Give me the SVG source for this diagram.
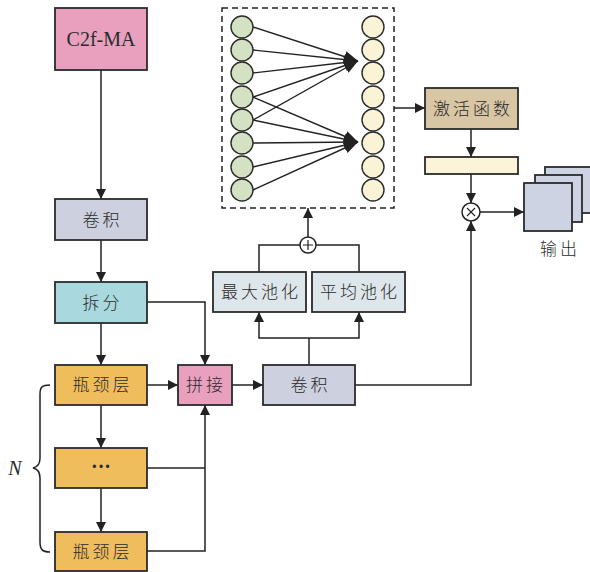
<svg xmlns="http://www.w3.org/2000/svg" width="590" height="572" viewBox="0 0 590 572">
  <style>
    .box { stroke: #2b2b2b; stroke-width: 1.8; }
    .pink { fill: #E9A0BE; }
    .conv { fill: #CDD0DE; }
    .split { fill: #A9D9DE; }
    .neck { fill: #F0BD5C; }
    .pool { fill: #DDE6EA; }
    .act { fill: #D8C6A5; }
    .bar { fill: #FBF4D8; }
    .out { fill: #CDD3E3; }
    .g { fill: #D4E1C2; stroke: #2b2b2b; stroke-width: 1.4; }
    .y { fill: #FAF3D6; stroke: #2b2b2b; stroke-width: 1.4; }
    .ln { fill: none; stroke: #222; stroke-width: 1.5; }
    .arr { fill: none; stroke: #222; stroke-width: 1.5; marker-end: url(#ah); }
    .net { fill: none; stroke: #222; stroke-width: 1.4; marker-end: url(#ah2); }
    .t { font-family: "Noto Sans CJK SC", "Noto Sans", sans-serif; font-size: 17px; font-weight: 300; fill: #2b2b2b; text-anchor: middle; letter-spacing: 3px; }
    .lat { font-family: "Liberation Serif", "Times New Roman", serif; font-size: 20px; fill: #2b2b2b; text-anchor: middle; }
  </style>
  <defs>
    <marker id="ah" viewBox="0 0 10 10" refX="10" refY="5" markerWidth="10" markerHeight="10" markerUnits="userSpaceOnUse" orient="auto">
      <path d="M0,0 L10,5 L0,10 Z" fill="#222"/>
    </marker>
    <marker id="ah2" viewBox="0 0 10 10" refX="10" refY="5" markerWidth="14" markerHeight="14" markerUnits="userSpaceOnUse" orient="auto">
      <path d="M0,1 L10,5 L0,9 Z" fill="#222"/>
    </marker>
  </defs>

  <!-- connectors -->
  <g id="connectors">
    <line class="arr" x1="101" y1="70" x2="101" y2="199"/>
    <line class="arr" x1="101" y1="240" x2="101" y2="282"/>
    <line class="arr" x1="101" y1="323" x2="101" y2="365"/>
    <polyline class="arr" points="147,302 205,302 205,365"/>
    <line class="arr" x1="147" y1="385" x2="178" y2="385"/>
    <line class="arr" x1="101" y1="405" x2="101" y2="448"/>
    <line class="arr" x1="101" y1="488" x2="101" y2="532"/>
    <line class="ln" x1="147" y1="468" x2="205" y2="468"/>
    <polyline class="arr" points="147,551 205,551 205,405"/>
    <line class="arr" x1="232" y1="385" x2="263" y2="385"/>
    <polyline class="arr" points="355,385 471,385 471,221"/>
    <line class="ln" x1="309" y1="365" x2="309" y2="338"/>
    <polyline class="arr" points="309,338 259,338 259,312"/>
    <polyline class="arr" points="309,338 359,338 359,312"/>
    <polyline class="ln" points="259,272 259,245 300,245"/>
    <polyline class="ln" points="359,272 359,245 316,245"/>
    <line class="arr" x1="308" y1="237" x2="308" y2="208"/>
    <line class="arr" x1="394" y1="108" x2="425" y2="108"/>
    <line class="arr" x1="471" y1="129" x2="471" y2="157"/>
    <line class="arr" x1="471" y1="174" x2="471" y2="203"/>
    <line class="arr" x1="480" y1="212" x2="524" y2="212"/>
    <!-- fully connected links -->
    <line class="net" x1="253" y1="27" x2="358" y2="61"/>
    <line class="net" x1="253" y1="50" x2="358" y2="61"/>
    <line class="net" x1="253" y1="73" x2="358" y2="61"/>
    <line class="net" x1="253" y1="97" x2="358" y2="61"/>
    <line class="net" x1="253" y1="120" x2="358" y2="61"/>
    <line class="net" x1="253" y1="97" x2="358" y2="142"/>
    <line class="net" x1="253" y1="120" x2="358" y2="142"/>
    <line class="net" x1="253" y1="143" x2="358" y2="142"/>
    <line class="net" x1="253" y1="167" x2="358" y2="142"/>
    <line class="net" x1="253" y1="190" x2="358" y2="142"/>
    <!-- repeat brace -->
    <path class="ln" d="M50,385 C42,385 40,387 40,394 L40,458 C40,464 38,467 33,468 C38,469 40,472 40,478 L40,542 C40,549 42,552 50,552" stroke-width="1.1"/>
  </g>

  <g id="c2f-ma">
    <rect class="box pink" x="55" y="8" width="92" height="62"/>
    <text class="lat" x="101" y="46">C2f-MA</text>
  </g>
  <g id="conv1">
    <rect class="box conv" x="55" y="199" width="92" height="41"/>
    <text class="t" x="102.5" y="226">卷积</text>
  </g>
  <g id="split">
    <rect class="box split" x="55" y="282" width="92" height="41"/>
    <text class="t" x="102.5" y="309">拆分</text>
  </g>
  <g id="bottleneck1">
    <rect class="box neck" x="55" y="365" width="92" height="40"/>
    <text class="t" x="102.5" y="391">瓶颈层</text>
  </g>
  <g id="bottleneck-more">
    <rect class="box neck" x="55" y="448" width="92" height="40"/>
    <text class="lat" x="101" y="473" font-size="17" font-weight="bold">···</text>
  </g>
  <g id="bottleneck-n">
    <rect class="box neck" x="55" y="532" width="92" height="39"/>
    <text class="t" x="102.5" y="558">瓶颈层</text>
  </g>
  <g id="repeat-label">
    <text class="lat" x="15" y="475" font-size="19" font-style="italic">N</text>
  </g>
  <g id="concat">
    <rect class="box pink" x="178" y="365" width="54" height="40"/>
    <text class="t" x="206" y="391" letter-spacing="1">拼接</text>
  </g>
  <g id="conv2">
    <rect class="box conv" x="263" y="365" width="92" height="40"/>
    <text class="t" x="310.5" y="391">卷积</text>
  </g>
  <g id="maxpool">
    <rect class="box pool" x="213" y="272" width="93" height="40"/>
    <text class="t" x="261" y="298">最大池化</text>
  </g>
  <g id="avgpool">
    <rect class="box pool" x="312" y="272" width="93" height="40"/>
    <text class="t" x="360" y="298">平均池化</text>
  </g>
  <g id="add">
    <circle cx="308" cy="245" r="8" fill="#fff" stroke="#222" stroke-width="1.5"/>
    <path d="M303,245 H313 M308,240 V250" stroke="#222" stroke-width="1.2"/>
  </g>
  <g id="fc-layer">
    <rect x="222" y="8" width="172" height="200" fill="none" stroke="#222" stroke-width="1.5" stroke-dasharray="6,4"/>
    <circle class="g" cx="242" cy="27" r="11"/>
    <circle class="g" cx="242" cy="50" r="11"/>
    <circle class="g" cx="242" cy="73" r="11"/>
    <circle class="g" cx="242" cy="97" r="11"/>
    <circle class="g" cx="242" cy="120" r="11"/>
    <circle class="g" cx="242" cy="143" r="11"/>
    <circle class="g" cx="242" cy="167" r="11"/>
    <circle class="g" cx="242" cy="190" r="11"/>
    <circle class="y" cx="373" cy="27" r="11"/>
    <circle class="y" cx="373" cy="50" r="11"/>
    <circle class="y" cx="373" cy="73" r="11"/>
    <circle class="y" cx="373" cy="97" r="11"/>
    <circle class="y" cx="373" cy="120" r="11"/>
    <circle class="y" cx="373" cy="143" r="11"/>
    <circle class="y" cx="373" cy="167" r="11"/>
    <circle class="y" cx="373" cy="190" r="11"/>
  </g>
  <g id="activation">
    <rect class="box act" x="425" y="88" width="93" height="41"/>
    <text class="t" x="473" y="115">激活函数</text>
  </g>
  <g id="weights">
    <rect class="box bar" x="425" y="157" width="93" height="17"/>
  </g>
  <g id="multiply">
    <circle cx="471" cy="212" r="9" fill="#fff" stroke="#222" stroke-width="1.5"/>
    <path d="M467,208 L475,216 M475,208 L467,216" stroke="#222" stroke-width="1.1"/>
  </g>
  <g id="output">
    <rect class="box out" x="545" y="167" width="47" height="46"/>
    <rect class="box out" x="535" y="175" width="47" height="47"/>
    <rect class="box out" x="524" y="183" width="48" height="48"/>
    <text class="t" x="560" y="255">输出</text>
  </g>
</svg>
